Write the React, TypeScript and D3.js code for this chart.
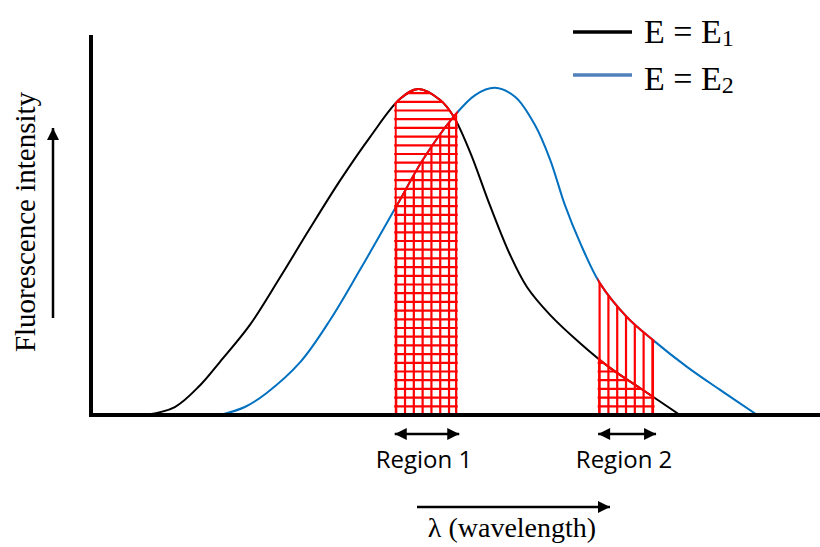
import React from 'react';
import * as d3 from 'd3';

// curve points (x: wavelength, arbitrary 0-100; y: intensity 0-100)
const blackX = [7.4, 11.5, 15.0, 17.7, 21.8, 25.9, 30.0, 34.2, 38.3, 42.4, 44.9, 47.9, 49.7, 52.0, 54.7, 57.5, 59.8, 63.0, 67.1, 71.2, 75.3, 80.8];
const blackY = [0, 2.1, 7.9, 14.0, 23.7, 36.1, 49.0, 61.8, 73.2, 83.2, 85.8, 82.9, 78.7, 69.2, 55.3, 42.1, 33.7, 26.3, 18.9, 12.4, 7.1, 0];

const blueX = [17.7, 21.1, 24.1, 28.7, 32.8, 36.9, 42.0, 45.5, 49.7, 52.7, 55.4, 58.2, 60.9, 63.0, 65.0, 67.1, 69.8, 73.5, 77.1, 81.8, 86.3, 91.4];
const blueY = [0, 2.1, 5.8, 13.9, 25.0, 38.2, 55.3, 67.1, 78.4, 84.2, 86.1, 83.7, 76.3, 67.1, 55.3, 45.3, 34.7, 25.8, 19.7, 12.6, 6.6, 0];

const regionNames = ['Region 1', 'Region 2'];
const regionStart = [41.8, 69.7];
const regionEnd = [50.1, 77.1];

const legendLabels = ['1', '2'];

const W = 820;
const H = 547;
const RED = '#ff0000';

const x = d3.scaleLinear().domain([0, 100]).range([91, 820]);
const y = d3.scaleLinear().domain([0, 100]).range([415, 35]);

type Pt = [number, number];
const black: Pt[] = blackX.map((v, i) => [v, blackY[i]]);
const blue: Pt[] = blueX.map((v, i) => [v, blueY[i]]);

const curve = d3.curveCatmullRom.alpha(0.5);
const line = d3.line<Pt>().x(d => x(d[0])).y(d => y(d[1])).curve(curve);
const area = d3.area<Pt>().x(d => x(d[0])).y0(y(0)).y1(d => y(d[1])).curve(curve);

const Arrow = ({ x1, y1, x2, y2, both = false }: any) => {
  const a = Math.atan2(y2 - y1, x2 - x1);
  const head = (px: number, py: number, ang: number) => {
    const L = 12, w = 6;
    const bx = px - L * Math.cos(ang), by = py - L * Math.sin(ang);
    return `M${px},${py}L${bx + w * Math.sin(ang)},${by - w * Math.cos(ang)}L${bx - w * Math.sin(ang)},${by + w * Math.cos(ang)}Z`;
  };
  return (
    <g>
      <line x1={x1} y1={y1} x2={x2} y2={y2} stroke="#000" strokeWidth={2.5} />
      <path d={head(x2, y2, a)} fill="#000" />
      {both && <path d={head(x1, y1, a + Math.PI)} fill="#000" />}
    </g>
  );
};

export default function App() {
  const base = y(0);
  return (
    <svg width={W} height={H} style={{ position: 'absolute', left: 0, top: 0 }} fontFamily="'Liberation Serif', 'Times New Roman', serif">
      <defs>
        <clipPath id="under-black"><path d={area(black) || ''} /></clipPath>
        <clipPath id="under-blue"><path d={area(blue) || ''} /></clipPath>
        <clipPath id="above-base"><rect x={0} y={0} width={W} height={base} /></clipPath>
        {regionStart.map((s, i) => (
          <clipPath id={`reg-${i}`} key={i}>
            <rect x={x(s) - 1.5} y={0} width={x(regionEnd[i]) - x(s) + 3} height={base} />
          </clipPath>
        ))}
      </defs>

      {/* curves */}
      <g clipPath="url(#above-base)">
        <path d={line(black) || ''} fill="none" stroke="#000" strokeWidth={2} />
        <path d={line(blue) || ''} fill="none" stroke="#0070c0" strokeWidth={2} />
      </g>

      {/* hatched regions: horizontal under E1, vertical under E2 */}
      {regionStart.map((s, i) => {
        const x0 = x(s), x1 = x(regionEnd[i]);
        const hs = d3.range(base - 8.7, 35, -8.7);
        const vs = d3.range(x0 + 0.5, x1, 8.8);
        return (
          <g key={i} clipPath={`url(#reg-${i})`}>
            <g clipPath="url(#under-black)">
              {hs.map(h => <line key={h} x1={x0 - 2} x2={x1 + 2} y1={h} y2={h} stroke={RED} strokeWidth={2.2} />)}
              <line x1={x0} x2={x0} y1={base} y2={35} stroke={RED} strokeWidth={2} />
              <line x1={x1} x2={x1} y1={base} y2={35} stroke={RED} strokeWidth={2} />
            </g>
            <path d={area(black) || ''} fill="none" stroke={RED} strokeWidth={2} />
            <g clipPath="url(#under-blue)">
              {vs.map(v => <line key={v} x1={v} x2={v} y1={base} y2={35} stroke={RED} strokeWidth={2.2} />)}
              <line x1={x1} x2={x1} y1={base} y2={35} stroke={RED} strokeWidth={2} />
            </g>
            <path d={area(blue) || ''} fill="none" stroke={RED} strokeWidth={2} />
          </g>
        );
      })}

      {/* axes */}
      <line x1={91} x2={91} y1={35} y2={417} stroke="#000" strokeWidth={4} />
      <line x1={89} x2={820} y1={415} y2={415} stroke="#000" strokeWidth={4} />

      {/* region markers */}
      {regionNames.map((name, i) => {
        const x0 = x(regionStart[i]), x1 = x(regionEnd[i]);
        const c = (x0 + x1) / 2;
        return (
          <g key={name}>
            <Arrow x1={x0 - 1} y1={434} x2={x1 + 3} y2={434} both />
            <text x={c - 2} y={468} textAnchor="middle" fontFamily="'Open Sans', sans-serif" fontSize={24}>{name}</text>
          </g>
        );
      })}

      {/* axis titles */}
      <Arrow x1={417} y1={507} x2={610} y2={507} />
      <text x={512} y={537} textAnchor="middle" fontSize={28}>λ (wavelength)</text>
      <Arrow x1={53} y1={318} x2={53} y2={128} />
      <text transform="translate(35,222) rotate(-90)" textAnchor="middle" fontSize={29}>Fluorescence intensity</text>

      {/* legend */}
      {['#000', '#4f81bd'].map((col, i) => (
        <g key={col}>
          <line x1={573} x2={632} y1={32 + i * 43} y2={32 + i * 43} stroke={col} strokeWidth={3.5} />
          <text x={644} y={43 + i * 47} fontSize={34}>
            E = E<tspan fontSize={24} dy={3}>{legendLabels[i]}</tspan>
          </text>
        </g>
      ))}
    </svg>
  );
}
